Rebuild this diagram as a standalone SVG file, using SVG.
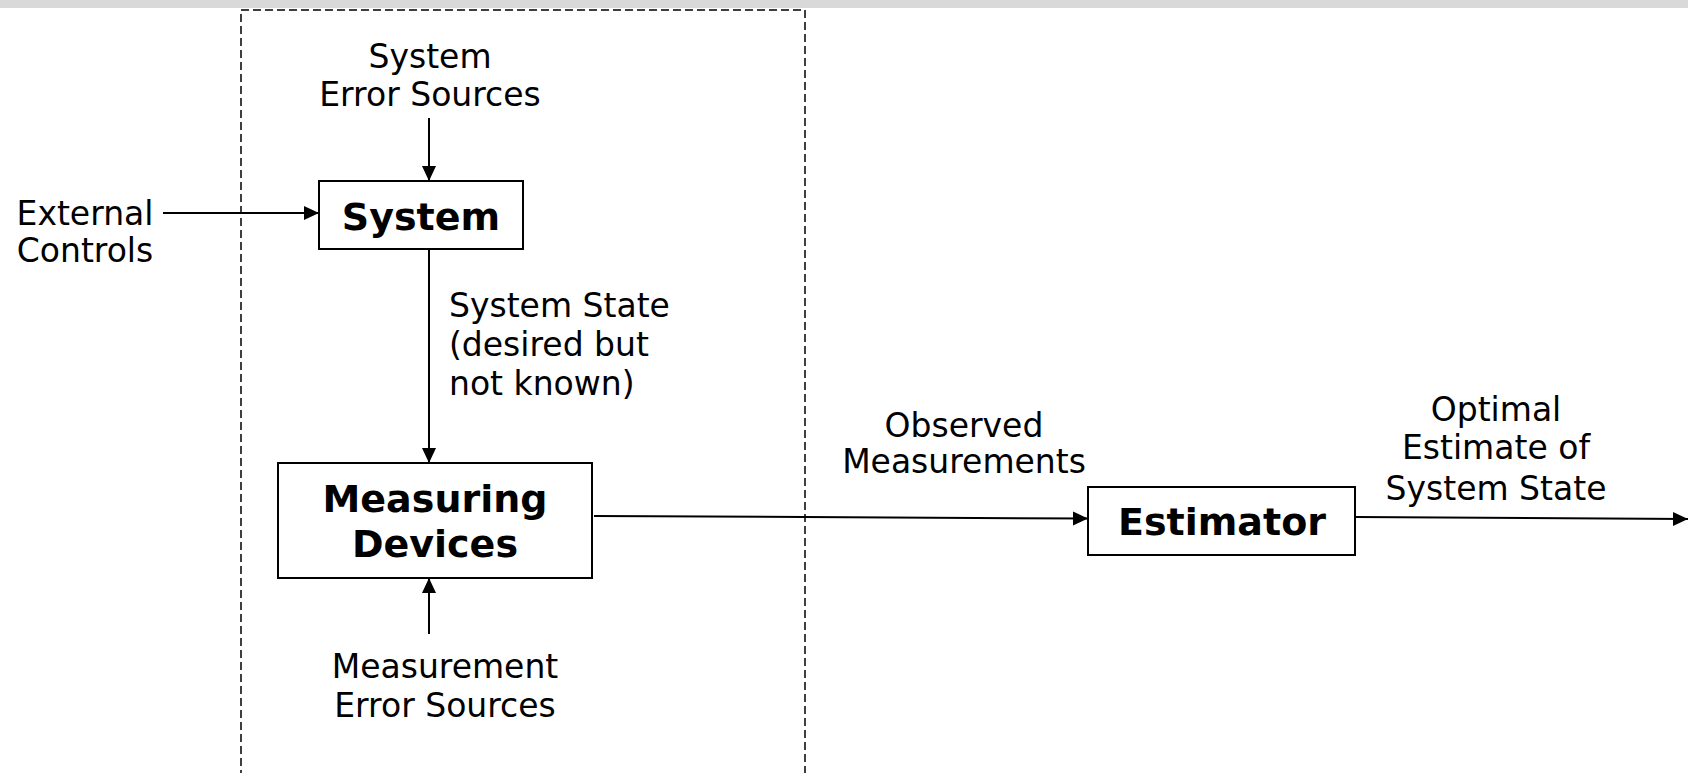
<svg xmlns="http://www.w3.org/2000/svg" width="1688" height="773" viewBox="0 0 1688 773">
  <style>
    .lbl { font-family: "DejaVu Sans", Verdana, sans-serif; font-size: 33px; fill: #000; }
    .ttl { font-family: "DejaVu Sans", Verdana, sans-serif; font-size: 38px; font-weight: bold; fill: #000; }
    .box { fill: #fff; stroke: #000; stroke-width: 2; }
    .conn { stroke: #000; stroke-width: 2; fill: none; marker-end: url(#arrow); }
  </style>
  <defs>
    <marker id="arrow" markerUnits="userSpaceOnUse" markerWidth="16" markerHeight="16" viewBox="0 0 16 16" refX="15" refY="8" orient="auto">
      <path d="M0,1 L15,8 L0,15 Z" fill="#000"/>
    </marker>
  </defs>
  <rect x="0" y="0" width="1688" height="773" fill="#fff"/>
  <rect x="0" y="0" width="1688" height="8" fill="#d9d9d9"/>

  <g id="boundary">
    <path d="M241,790 V10 H805 V790" fill="none" stroke="#000" stroke-width="1.5" stroke-dasharray="8,4"/>
  </g>

  <g id="connectors">
    <line class="conn" x1="429" y1="118" x2="429" y2="181"/>
    <line class="conn" x1="163" y1="213" x2="319" y2="213"/>
    <line class="conn" x1="429" y1="249" x2="429" y2="463"/>
    <line class="conn" x1="429" y1="634" x2="429" y2="578"/>
    <line class="conn" x1="594" y1="516" x2="1088" y2="518.5"/>
    <line class="conn" x1="1356" y1="517" x2="1688" y2="519"/>
  </g>

  <g id="system-error-sources">
    <text class="lbl" x="430" y="68" text-anchor="middle">System</text>
    <text class="lbl" x="430" y="106" text-anchor="middle">Error Sources</text>
  </g>
  <g id="external-controls">
    <text class="lbl" x="85" y="225" text-anchor="middle">External</text>
    <text class="lbl" x="85" y="262" text-anchor="middle">Controls</text>
  </g>
  <g id="system">
    <rect class="box" x="319" y="181" width="204" height="68"/>
    <text class="ttl" x="421" y="230" text-anchor="middle">System</text>
  </g>
  <g id="system-state-label">
    <text class="lbl" x="449" y="317">System State</text>
    <text class="lbl" x="449" y="356">(desired but</text>
    <text class="lbl" x="449" y="395">not known)</text>
  </g>
  <g id="measuring-devices">
    <rect class="box" x="278" y="463" width="314" height="115"/>
    <text class="ttl" x="435" y="512" text-anchor="middle">Measuring</text>
    <text class="ttl" x="435" y="557" text-anchor="middle">Devices</text>
  </g>
  <g id="measurement-error-sources">
    <text class="lbl" x="445" y="678" text-anchor="middle">Measurement</text>
    <text class="lbl" x="445" y="717" text-anchor="middle">Error Sources</text>
  </g>
  <g id="observed-measurements">
    <text class="lbl" x="964" y="437" text-anchor="middle">Observed</text>
    <text class="lbl" x="964" y="473" text-anchor="middle">Measurements</text>
  </g>
  <g id="estimator">
    <rect class="box" x="1088" y="487" width="267" height="68"/>
    <text class="ttl" x="1222" y="535" text-anchor="middle">Estimator</text>
  </g>
  <g id="optimal-estimate">
    <text class="lbl" x="1496" y="421" text-anchor="middle">Optimal</text>
    <text class="lbl" x="1496" y="459" text-anchor="middle">Estimate of</text>
    <text class="lbl" x="1496" y="500" text-anchor="middle">System State</text>
  </g>
</svg>
